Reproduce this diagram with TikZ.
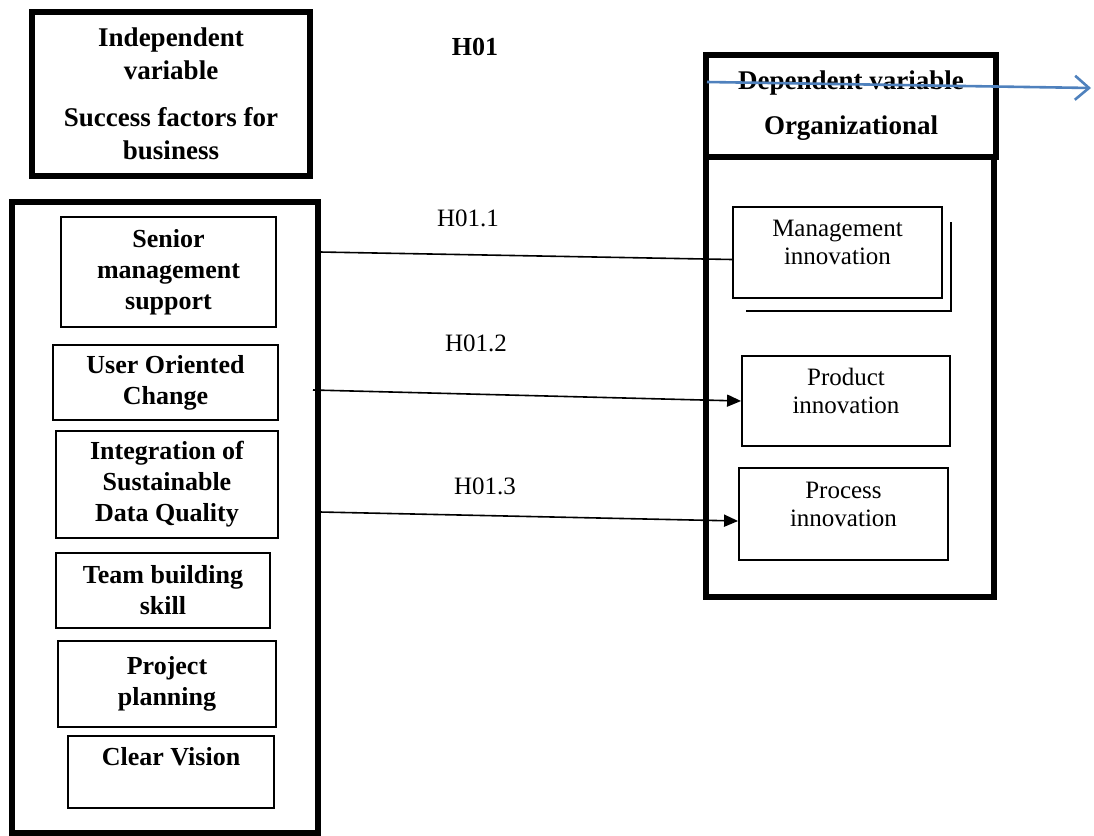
\documentclass[tikz,border=0pt]{standalone}
\usepackage{fontspec}
\setmainfont{Liberation Serif}
\usetikzlibrary{arrows.meta,positioning}

\definecolor{linkblue}{RGB}{79,129,189}
\newcommand{\dropstrut}{\rule[-10pt]{0pt}{1pt}}

\tikzset{
	bigframe/.style={draw,line width=3pt,inner sep=0pt,align=center},
	factor/.style={draw,line width=0.9pt,inner sep=0pt,align=center,
		font=\fontsize{13}{15.5}\selectfont\bfseries},
	outcome/.style={draw,line width=0.9pt,inner sep=0pt,align=center,
		font=\fontsize{12.5}{14}\selectfont},
	size/.style 2 args={minimum width=#1*0.5pt,minimum height=#2*0.5pt},
	hyp/.style={font=\fontsize{12.5}{14}\selectfont},
	link/.style={line width=0.8pt},
}

\begin{document}
\begin{tikzpicture}[x=0.5pt,y=-0.5pt]
	
	\useasboundingbox (0,0) rectangle (1094,836);
	
	%%%%%%%%%%%%%%%%%%%%%%%%%%%%%%%%%%%%%%%%%%%%%%%%%%%%%%
	
	\node [bigframe,size={278}{164},font=\fontsize{13.5}{16.5}\selectfont\bfseries] (indep) at (171,94)
		{Independent\\variable\\[7pt]Success factors for\\business};
	
	\node [bigframe,size={306}{631}] (factors) at (164.75,517.5) {};
	
	\node [factor,size={215}{110}] (senior) at (168.5,272) {Senior\\management\\support};
	\node [factor,size={225}{75}] (user) at (165.5,382.5) {User Oriented\\Change};
	\node [factor,size={222}{107}] (integration) at (167,484.5) {Integration of\\Sustainable\\Data Quality};
	\node [factor,size={214}{75}] (team) at (163,590.5) {Team building\\skill};
	\node [factor,size={218}{86}] (planning) at (167,684) {Project\\planning};
	\node [factor,size={206}{72}] (vision) at (171,772) {Clear Vision\\\mbox{}};
	
	%%%%%%%%%%%%%%%%%%%%%%%%%%%%%%%%%%%%%%%%%%%%%%%%%%%%%%
	
	\node [font=\fontsize{13}{15}\selectfont\bfseries] (h01) at (475,47) {H01};
	
	\node [bigframe,size={290}{102},font=\fontsize{13.5}{16.5}\selectfont\bfseries] (dep) at (851,106)
		{Dependent variable\\[6pt]Organizational};
	
	\node [bigframe,size={288}{440}] (outcomes) at (850,377) {};
	
	\node [outcome,size={209}{91}] (mgmt) at (837.5,252.5) {Management\\innovation\dropstrut};
		\draw [line width=0.9pt] ([xshift=4pt,yshift=-8pt]mgmt.north east) |- ([xshift=7pt,yshift=-6pt]mgmt.south west);
	\node [outcome,size={208}{90}] (product) at (846,401) {Product\\innovation\dropstrut};
	\node [outcome,size={209}{92}] (process) at (843.5,514) {Process\\innovation\dropstrut};
	
	%%%%%%%%%%%%%%%%%%%%%%%%%%%%%%%%%%%%%%%%%%%%%%%%%%%%%%
	
	\coordinate (h1-start) at (320,252);
	\coordinate (h2-start) at (313,390);
	\coordinate (h3-start) at (320,512);
	
	\draw [link] (h1-start) -- ([yshift=-3.5pt]mgmt.west);
	\draw [link,-{Triangle[length=7pt,width=6pt]}] (h2-start) -- (product.west);
	\draw [link,-{Triangle[length=7pt,width=6pt]}] (h3-start) -- ([yshift=-3.5pt]process.west);
	
	\node [hyp] (h11) at (468,218) {H01.1};
	\node [hyp] (h12) at (476,343) {H01.2};
	\node [hyp] (h13) at (485,486) {H01.3};
	
	%%%%%%%%%%%%%%%%%%%%%%%%%%%%%%%%%%%%%%%%%%%%%%%%%%%%%%
	
	\coordinate (blue-start) at (707,82);
	\coordinate (blue-end) at (1091,88);
	\draw [linkblue,line width=1.3pt,-{Straight Barb[length=7pt,width=12pt]}] (blue-start) -- (blue-end);
	
\end{tikzpicture}
\end{document}
